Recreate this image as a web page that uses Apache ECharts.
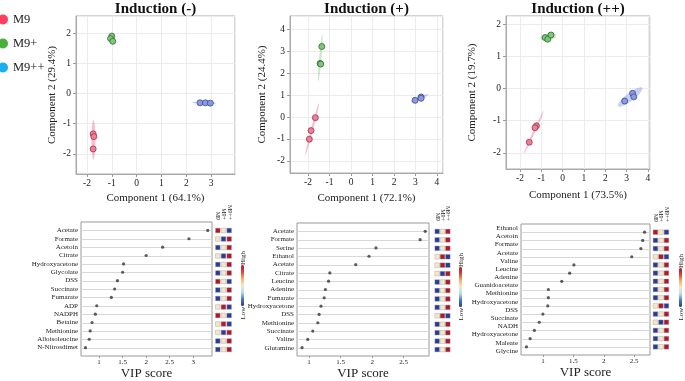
<!DOCTYPE html>
<html>
<head>
<meta charset="utf-8">
<script src="https://cdn.jsdelivr.net/npm/echarts@6/dist/echarts.min.js"></script>
<style>
html, body { margin: 0; padding: 0; background: #fff; }
#main { width: 685px; height: 381px; }
</style>
</head>
<body>
<div id="main"></div>
<script>
// groups
var groups = ['M9', 'M9+', 'M9++'];

// PLS-DA scores [component1, component2], one list per group
var scoreNeg = [
    [[-1.75, -1.34], [-1.72, -1.43], [-1.75, -1.84]],
    [[-1.0, 1.9], [-1.05, 1.82], [-0.96, 1.73]],
    [[2.55, -0.31], [2.77, -0.31], [2.97, -0.32]]
];
var scorePos = [
    [[-1.66, -0.03], [-1.86, -0.62], [-1.94, -1.01]],
    [[-1.36, 3.21], [-1.44, 2.44], [-1.41, 2.41]],
    [[2.98, 0.76], [3.26, 0.91], [3.26, 0.85]]
];
var scorePP = [
    [[-1.23, -1.16], [-1.3, -1.22], [-1.57, -1.67]],
    [[-0.82, 1.58], [-0.7, 1.53], [-0.55, 1.66]],
    [[2.91, -0.39], [3.28, -0.15], [3.34, -0.26]]
];

// confidence ellipses: [cx, cy, ux, uy, vx, vy, group]
var ellNeg = [
    [-1.74, -1.53, 0, 0.65, 0.08, 0, 0],
    [2.71, -0.31, 0.5, -0.01, 0, 0.035, 2]
];
var ellPos = [
    [-1.81, -0.55, 0.32, 1.18, 0.05, -0.01, 0],
    [-1.43, 2.7, 0.095, 1.1, 0.05, 0, 1],
    [3.19, 0.86, 0.41, 0.17, -0.03, 0.06, 2]
];
var ellPP = [
    [-1.355, -1.36, 0.465, 0.66, 0.045, -0.015, 0],
    [-0.68, 1.6, 0.37, 0.03, 0, 0.11, 1],
    [3.17, -0.265, 0.56, 0.285, 0.11, -0.1, 2]
];

// VIP scores
var labels1 = ['Acetate', 'Formate', 'Acetoin', 'Citrate', 'Hydroxyacetone', 'Glycolate', 'DSS', 'Succinate',
    'Fumarate', 'ADP', 'NADPH', 'Betaine', 'Methionine', 'Alloisoleucine', 'N-Nitrosdimet'];
var vip1 = [3.31, 2.91, 2.35, 2.0, 1.52, 1.5, 1.39, 1.33, 1.26, 0.95, 0.92, 0.85, 0.81, 0.79, 0.71];
var labels2 = ['Acetate', 'Formate', 'Serine', 'Ethanol', 'Acetate', 'Citrate', 'Leucine', 'Adenine',
    'Fumarate', 'Hydroxyacetone', 'DSS', 'Methionine', 'Succinate', 'Valine', 'Glutamine'];
var vip2 = [2.84, 2.76, 2.06, 1.95, 1.74, 1.33, 1.31, 1.26, 1.24, 1.19, 1.16, 1.14, 1.06, 0.98, 0.89];
var labels3 = ['Ethanol', 'Acetoin', 'Formate', 'Acetate', 'Valine', 'Leucine', 'Adenine', 'Guanidoacetate',
    'Methionine', 'Hydroxyacetone', 'DSS', 'Succinate', 'NADH', 'Hydroxyacetone', 'Maleate', 'Glycine'];
var vip3 = [2.67, 2.64, 2.61, 2.46, 1.51, 1.44, 1.31, 1.09, 1.09, 1.08, 1.0, 0.94, 0.86, 0.79, 0.73];

// relative level per row: M9, M9+, M9++  (1 high, 0 mid, -1 low)
var heat1 = [[1,0,-1],[0,-1,1],[-1,0,1],[0,-1,1],[-1,0,1],[-1,0,1],[1,0,-1],[-1,0,1],
    [-1,0,1],[0,1,-1],[1,0,-1],[0,1,-1],[0,-1,1],[-1,0,1],[-1,0,1]];
var heat2 = [[-1,0,1],[-1,0,1],[-1,0,1],[0,1,-1],[0,1,-1],[0,-1,1],[-1,0,1],[-1,0,1],
    [-1,0,1],[-1,0,1],[0,1,-1],[-1,0,1],[-1,0,1],[-1,0,1],[-1,0,1]];
var heat3 = [[1,0,-1],[-1,0,1],[-1,0,1],[0,1,-1],[-1,0,1],[-1,0,1],[-1,0,1],[-1,0,1],
    [-1,0,1],[0,1,-1],[-1,0,1],[0,-1,1],[-1,0,1],[-1,0,1],[-1,0,1]];

var titles = ['Induction (-)', 'Induction (+)', 'Induction (++)'];
var comp1 = ['Component 1 (64.1%)', 'Component 1 (72.1%)', 'Component 1 (73.5%)'];
var comp2 = ['Component 2 (29.4%)', 'Component 2 (24.4%)', 'Component 2 (19.7%)'];

// styles
var serif = '"Liberation Serif", "Times New Roman", serif';
var fillColors = ['#ec7f97', '#7fc67d', '#8b99dd'];
var edgeColors = ['#a0324d', '#2f6b30', '#3b4b9a'];
var legendColors = ['#ff3d60', '#4aae3a', '#18aef0'];
var ellFill = ['rgba(240,110,140,0.45)', 'rgba(120,195,120,0.4)', 'rgba(120,140,225,0.4)'];
var heatColors = ['#2a3a99', '#4a78b8', '#b8dcea', '#f3e9c6', '#f7b267', '#d6453a', '#b0162c'];

var scores = [scoreNeg, scorePos, scorePP];
var ellipses = [ellNeg, ellPos, ellPP];
var vipLabels = [labels1, labels2, labels3];
var vips = [vip1, vip2, vip3];
var heats = [heat1, heat2, heat3];

// layout
var topBoxes = [
    {left: 76, top: 16, width: 159, height: 158},
    {left: 290, top: 16, width: 153, height: 157},
    {left: 506, top: 16, width: 144, height: 153}
];
var topX = [[-2.44, 3.96], [-2.84, 4.28], [-2.66, 4.1]];
var topY = [[-2.67, 2.57], [-2.55, 4.6], [-2.5, 2.25]];
var gapX = [18.5, 19.5, 21];
var gapY = [18, 22, 28];
var botBoxes = [
    {left: 81, top: 222, width: 131, height: 136},
    {left: 297, top: 223, width: 132, height: 135},
    {left: 521, top: 224, width: 129, height: 131}
];
var botX = [[0.615, 3.4], [0.81, 2.9], [0.64, 2.76]];
var heatBoxes = [
    {left: 215, top: 222, width: 17, height: 136},
    {left: 434.5, top: 223, width: 16, height: 135},
    {left: 652.7, top: 224, width: 16.5, height: 131}
];
var barPos = [[241, 265, 41], [459, 267, 40], [679, 268, 39]];

function ellipseItem(params, api) {
    var cx = api.value(0), cy = api.value(1);
    var ux = api.value(2), uy = api.value(3), vx = api.value(4), vy = api.value(5);
    var pts = [];
    for (var k = 0; k < 60; k++) {
        var t = k / 60 * Math.PI * 2;
        pts.push(api.coord([cx + Math.cos(t) * ux + Math.sin(t) * vx, cy + Math.cos(t) * uy + Math.sin(t) * vy]));
    }
    return {type: 'polygon', shape: {points: pts}, style: {fill: ellFill[api.value(6)]}};
}

// horizontal guide line across the VIP panel for one row
function rowLine(range) {
    return function (params, api) {
        var a = api.coord([range[0], api.value(1)]);
        var b = api.coord([range[1], api.value(1)]);
        var y = Math.round(a[1]) + 0.5;
        return {
            type: 'line', shape: {x1: a[0], y1: y, x2: b[0], y2: y},
            style: {stroke: '#d8d8d8', lineWidth: 1}
        };
    };
}

function ext(a, b) { return Object.assign({}, a, b); }

var grid = [], xAxis = [], yAxis = [], series = [], title = [], visualMap = [], graphic = [];
var tickText = {fontFamily: serif, color: '#222'};

// score plots
for (var p = 0; p < 3; p++) {
    var b = topBoxes[p];
    grid.push(ext({show: true, borderColor: '#aaa', borderWidth: 1}, b));
    title.push({
        text: titles[p], left: b.left + b.width / 2, top: 2, textAlign: 'center', padding: 0,
        textStyle: {fontFamily: serif, fontSize: 15, fontWeight: 'bold', color: '#111'}
    });
    xAxis.push({
        type: 'value', gridIndex: p, min: topX[p][0], max: topX[p][1], splitNumber: 6,
        name: comp1[p], nameLocation: 'middle', nameGap: gapX[p],
        nameTextStyle: {fontFamily: serif, fontSize: 11, color: '#222'},
        axisLine: {show: true, onZero: false, lineStyle: {color: '#aaa'}},
        axisTick: {show: true, length: 3, lineStyle: {color: '#999'}},
        axisLabel: ext({fontSize: 9.5, margin: 4, showMinLabel: false, showMaxLabel: false}, tickText),
        splitLine: {lineStyle: {color: '#ececec'}}
    });
    yAxis.push({
        type: 'value', gridIndex: p, min: topY[p][0], max: topY[p][1], splitNumber: 6,
        name: comp2[p], nameLocation: 'middle', nameGap: gapY[p],
        nameTextStyle: {fontFamily: serif, fontSize: 11, color: '#222'},
        axisLine: {show: true, onZero: false, lineStyle: {color: '#aaa'}},
        axisTick: {show: true, length: 3, lineStyle: {color: '#999'}},
        axisLabel: ext({fontSize: 9.5, margin: 5, showMinLabel: false, showMaxLabel: false}, tickText),
        splitLine: {lineStyle: {color: '#ececec'}}
    });
    series.push({
        type: 'custom', xAxisIndex: p, yAxisIndex: p, renderItem: ellipseItem,
        data: ellipses[p], encode: {x: 0, y: 1}, silent: true, z: 1
    });
    for (var g = 0; g < 3; g++) {
        series.push({
            type: 'scatter', name: groups[g], xAxisIndex: p, yAxisIndex: p,
            data: scores[p][g], symbolSize: 6, z: 3,
            itemStyle: {color: fillColors[g], borderColor: edgeColors[g], borderWidth: 0.8, opacity: 1}
        });
    }
}

// VIP dot plots (grids 3..5)
for (var p = 0; p < 3; p++) {
    grid.push(ext({show: true, borderColor: '#999', borderWidth: 1}, botBoxes[p]));
    var labs = vipLabels[p];
    xAxis.push({
        type: 'value', gridIndex: 3 + p, min: botX[p][0], max: botX[p][1], splitNumber: 5,
        name: 'VIP score', nameLocation: 'middle', nameGap: 11,
        nameTextStyle: {fontFamily: serif, fontSize: 13, color: '#222'},
        axisLine: {show: false, onZero: false},
        axisTick: {show: true, length: 2, lineStyle: {color: '#999'}},
        axisLabel: ext({fontSize: 7, margin: 3, showMinLabel: false, showMaxLabel: false}, tickText),
        splitLine: {show: false}
    });
    yAxis.push({
        type: 'value', gridIndex: 3 + p, min: -1, max: 15, interval: 1, inverse: true, position: 'left',
        axisLine: {show: false, onZero: false}, axisTick: {show: false},
        axisLabel: ext({
            show: p < 2, fontSize: 7, margin: 3,
            formatter: (function (l) { return function (v) { return l[Math.round(v)] || ''; }; })(labs)
        }, tickText),
        splitLine: {show: false}
    });
    series.push({
        type: 'custom', xAxisIndex: 3 + p, yAxisIndex: 3 + p, renderItem: rowLine(botX[p]),
        data: vips[p].map(function (v, i) { return [botX[p][0], i]; }),
        encode: {x: 0, y: 1}, silent: true, z: 1
    });
    series.push({
        type: 'scatter', xAxisIndex: 3 + p, yAxisIndex: 3 + p, symbolSize: 3.2, silent: true, z: 3,
        data: vips[p].map(function (v, i) { return [v, i]; }),
        itemStyle: {color: '#333'}
    });
}

// heat squares (grids 6..8)
for (var p = 0; p < 3; p++) {
    grid.push(ext({show: false}, heatBoxes[p]));
    xAxis.push({
        type: 'category', gridIndex: 6 + p, data: groups, position: 'top',
        axisLine: {show: false, onZero: false}, axisTick: {show: false},
        axisLabel: ext({fontSize: 6, rotate: 90, margin: 2, interval: 0}, tickText)
    });
    yAxis.push({
        type: 'value', gridIndex: 6 + p, min: -1, max: 15, inverse: true, show: false
    });
    var hd = [];
    heats[p].forEach(function (row, i) {
        row.forEach(function (v, j) { hd.push([j, i, v]); });
    });
    visualMap.push({
        type: 'continuous', seriesIndex: series.length, dimension: 2, min: -1, max: 1,
        orient: 'vertical', left: barPos[p][0], top: barPos[p][1], itemWidth: 3, itemHeight: barPos[p][2],
        calculable: false, padding: 0, text: null, inRange: {color: heatColors}
    });
    series.push({
        type: 'scatter', xAxisIndex: 6 + p, yAxisIndex: 6 + p, symbol: 'rect', symbolSize: [4.6, 4.6],
        data: hd, silent: true,
        itemStyle: {borderColor: '#9a9a9a', borderWidth: 0.4, opacity: 1}
    });
    var cx = barPos[p][0] + 2.5;
    graphic.push({
        type: 'text', x: cx, y: barPos[p][1] - 7, rotation: Math.PI / 2,
        style: {text: 'High', fontFamily: serif, fontSize: 7, fill: '#222', align: 'center', verticalAlign: 'middle'}
    });
    graphic.push({
        type: 'text', x: cx, y: barPos[p][1] + barPos[p][2] + 7, rotation: Math.PI / 2,
        style: {text: 'Low', fontFamily: serif, fontSize: 7, fill: '#222', align: 'center', verticalAlign: 'middle'}
    });
}

// labels for third VIP panel (16 names against 15 rows)
yAxis.push({
    type: 'category', gridIndex: 5, data: labels3, inverse: true, position: 'left', offset: 0,
    axisLine: {show: false, onZero: false}, axisTick: {show: false}, splitLine: {show: false},
    axisLabel: ext({fontSize: 7, margin: 3, interval: 0}, tickText)
});

var chart = echarts.init(document.getElementById('main'));
chart.setOption({
    animation: false,
    backgroundColor: '#fff',
    title: title,
    legend: {
        data: groups.map(function (g, i) {
            return {name: g, itemStyle: {color: legendColors[i], borderWidth: 0}};
        }),
        orient: 'vertical', left: -2, top: 13, icon: 'circle', itemWidth: 10, itemHeight: 10,
        itemGap: 11, selectedMode: false, padding: 0,
        textStyle: {fontFamily: serif, fontSize: 12.5, color: '#222'}
    },
    grid: grid,
    xAxis: xAxis,
    yAxis: yAxis,
    visualMap: visualMap,
    graphic: graphic,
    series: series
});
</script>
</body>
</html>
